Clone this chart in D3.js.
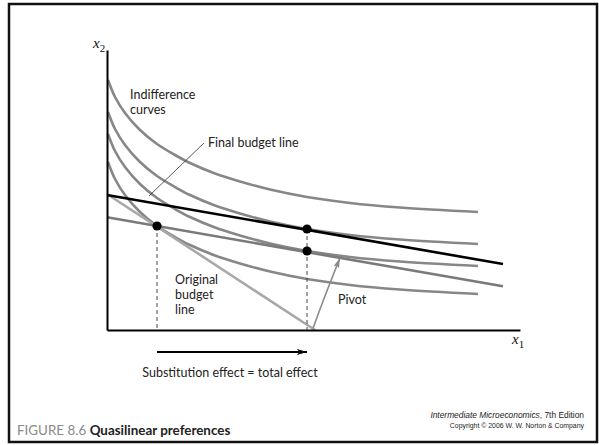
<!DOCTYPE html>
<html>
<head>
<meta charset="utf-8">
<script src="https://cdn.jsdelivr.net/npm/d3@7/dist/d3.min.js"></script>
<style>
  html, body { margin: 0; padding: 0; background: #fff; }
  svg { display: block; }
  .lbl { font-family: Lato, "Open Sans", sans-serif; font-size: 12.5px; fill: #222; }
</style>
</head>
<body>
<svg id="chart" width="599" height="445"></svg>
<script>
// ---- data (abstract units: x1 0..100, x2 0..100) ----
const baseCurveX = [0.24, 1.94, 4.36, 7.99, 12.11, 16.46, 20.10, 26.15, 32.20, 39.47, 48.43, 58.84, 70.94, 89.83];
const baseCurveY = [89.29, 83.21, 77.50, 71.43, 66.43, 62.50, 59.64, 55.89, 53.04, 50.18, 47.50, 45.36, 43.75, 42.14];
const curveShifts = [0, -11.43, -19.29, -29.29];        // quasilinear: vertical shifts of one curve
const finalBudget = [[0, 48.2], [95.88, 23.57]];
const pivotBudget = [[0, 40.25], [95.88, 15.61]];
const originalBudget = [[0, 48.57], [50.36, 0]];
const choices = [[12.11, 37.14], [48.43, 36.07], [48.43, 28.21]];
const pivotArrow = [[49.9, 0.7], [52.8, 12.5], [56.4, 25.7]];

const svg = d3.select("#chart");
const x = d3.scaleLinear().domain([0, 100]).range([107, 520]);
const y = d3.scaleLinear().domain([0, 100]).range([330, 50]);

// frame
svg.append("rect").attr("x", 9).attr("y", 4).attr("width", 588).attr("height", 438)
  .attr("fill", "none").attr("stroke", "#111").attr("stroke-width", 2.5);

const line = d3.line().x(d => x(d[0])).y(d => y(d[1]));
const smooth = d3.line().x(d => x(d[0])).y(d => y(d[1])).curve(d3.curveCatmullRom.alpha(0.5));

// indifference curves
curveShifts.forEach(s => {
  const pts = baseCurveX.map((v, i) => [v, baseCurveY[i] + s]);
  svg.append("path").attr("d", smooth(pts)).attr("fill", "none")
    .attr("stroke", "#878787").attr("stroke-width", 2.6);
});

// original budget line
svg.append("path").attr("d", line(originalBudget)).attr("fill", "none")
  .attr("stroke", "#a8a8a8").attr("stroke-width", 2.6);
// pivoted budget line
svg.append("path").attr("d", line(pivotBudget)).attr("fill", "none")
  .attr("stroke", "#7a7a7a").attr("stroke-width", 2.6);
// final budget line
svg.append("path").attr("d", line(finalBudget)).attr("fill", "none")
  .attr("stroke", "#000").attr("stroke-width", 2.6);

// dashed drop lines
[choices[0], choices[1]].forEach(c => {
  svg.append("line").attr("x1", x(c[0])).attr("x2", x(c[0]))
    .attr("y1", y(c[1])).attr("y2", y(0))
    .attr("stroke", "#333").attr("stroke-width", 0.9).attr("stroke-dasharray", "4,3");
});

// axes
const xAxis = d3.axisBottom(x).tickValues([]).tickSizeOuter(0);
const yAxis = d3.axisLeft(y).tickValues([]).tickSizeOuter(0);
svg.append("g").attr("transform", `translate(0,${y(0)})`).call(xAxis)
  .select(".domain").attr("stroke", "#000").attr("stroke-width", 2);
svg.append("g").attr("transform", `translate(${x(0)},0)`).call(yAxis)
  .select(".domain").attr("stroke", "#000").attr("stroke-width", 2);

// dots
svg.selectAll("circle.ch").data(choices).enter().append("circle")
  .attr("cx", d => x(d[0])).attr("cy", d => y(d[1])).attr("r", 4.6).attr("fill", "#000");

// markers
const defs = svg.append("defs");
defs.append("marker").attr("id", "ah").attr("viewBox", "0 0 10 6").attr("refX", 10).attr("refY", 3)
  .attr("markerWidth", 10).attr("markerHeight", 6).attr("markerUnits", "userSpaceOnUse").attr("orient", "auto")
  .append("path").attr("d", "M0,0 L10,3 L0,6 L2,3 Z").attr("fill", "#000");
defs.append("marker").attr("id", "ahg").attr("viewBox", "0 0 10 6").attr("refX", 10).attr("refY", 3)
  .attr("markerWidth", 10).attr("markerHeight", 7).attr("markerUnits", "userSpaceOnUse").attr("orient", "auto")
  .append("path").attr("d", "M0,0 L10,3 L0,6 L2,3 Z").attr("fill", "#8a8a8a");

// substitution effect arrow
svg.append("line").attr("x1", x(choices[0][0])).attr("x2", x(choices[1][0]))
  .attr("y1", 352).attr("y2", 352).attr("stroke", "#000").attr("stroke-width", 2)
  .attr("marker-end", "url(#ah)");

// pivot arrow
const pa = pivotArrow.map(d => [x(d[0]), y(d[1])]);
svg.append("path").attr("d", `M${pa[0][0]},${pa[0][1]} Q${pa[1][0]},${pa[1][1]} ${pa[2][0]},${pa[2][1]}`)
  .attr("fill", "none").attr("stroke", "#8a8a8a").attr("stroke-width", 1.6).attr("marker-end", "url(#ahg)");

// pointer for final budget line
svg.append("line").attr("x1", 204).attr("y1", 143).attr("x2", 149).attr("y2", 196)
  .attr("stroke", "#333").attr("stroke-width", 0.8);

// labels
const T = (tx, ty, s, cls) => svg.append("text").attr("x", tx).attr("y", ty).attr("class", cls || "lbl").text(s);
T(130, 99, "Indifference");
T(130, 114, "curves");
T(208, 147, "Final budget line");
T(175, 284, "Original");
T(175, 299, "budget");
T(175, 314, "line");
T(338, 304, "Pivot");
svg.append("text").attr("x", 230).attr("y", 377).attr("class", "lbl").attr("text-anchor", "middle")
  .text("Substitution effect = total effect");

// axis labels
const ax = (tx, ty, sub) => {
  const t = svg.append("text").attr("x", tx).attr("y", ty)
    .style("font-family", "'Liberation Serif', serif").style("font-style", "italic").style("font-size", "15px").attr("fill", "#111");
  t.append("tspan").text("x");
  t.append("tspan").attr("dy", 4).style("font-size", "11px").style("font-style", "normal").text(sub);
};
ax(93, 48, "2");
ax(512, 344, "1");

// caption
const cap = svg.append("text").attr("x", 17).attr("y", 435)
  .style("font-family", "Lato, sans-serif").style("font-size", "13.4px");
cap.append("tspan").attr("fill", "#8a8a8a").text("FIGURE 8.6 ");
cap.append("tspan").attr("fill", "#222").style("font-weight", "bold").text("Quasilinear preferences");

svg.append("text").attr("x", 584).attr("y", 418).attr("text-anchor", "end")
  .style("font-family", "'Liberation Sans', Arial, sans-serif").style("font-size", "8.4px").attr("fill", "#222")
  .html("<tspan font-style='italic'>Intermediate Microeconomics</tspan>, 7th Edition");
svg.append("text").attr("x", 584).attr("y", 428).attr("text-anchor", "end")
  .style("font-family", "'Liberation Sans', Arial, sans-serif").style("font-size", "6.9px").attr("fill", "#222")
  .text("Copyright © 2006 W. W. Norton & Company");
</script>
</body>
</html>
